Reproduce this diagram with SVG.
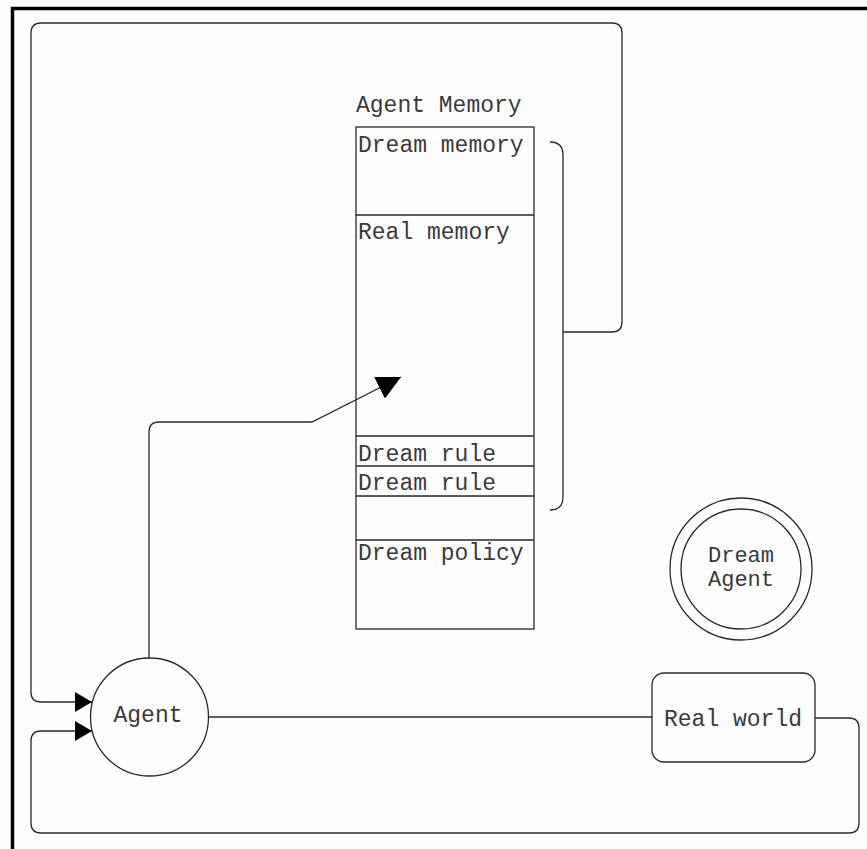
<svg xmlns="http://www.w3.org/2000/svg" width="867" height="849" viewBox="0 0 867 849">
  <style>
    .line { fill: none; stroke: #2a2a2a; stroke-width: 1.3; }
    .shape { fill: none; stroke: #2a2a2a; stroke-width: 1.3; }
    .label { font-family: "Liberation Mono", "Courier New", monospace; font-size: 23px; fill: #3a3a3a; }
    .small { font-size: 22px; }
    .mid { text-anchor: middle; }
  </style>
  <defs>
    <marker id="head" markerUnits="userSpaceOnUse" markerWidth="17" markerHeight="20" refX="17" refY="10" orient="auto">
      <path d="M0,0 L17,10 L0,20 z" fill="#000"/>
    </marker>
    <marker id="head-lg" markerUnits="userSpaceOnUse" markerWidth="24" markerHeight="24" refX="24" refY="12" orient="auto">
      <path d="M0,0 L24,12 L0,24 z" fill="#000"/>
    </marker>
  </defs>

  <rect width="867" height="849" fill="#fdfdfd"/>

  <!-- outer frame (top and left edges) -->
  <path d="M12.5,849 L12.5,8.5 L867,8.5" fill="none" stroke="#000" stroke-width="3.5"/>

  <g id="agent-memory">
    <text class="label" x="356" y="112">Agent Memory</text>
    <rect class="shape" x="356" y="127" width="178" height="502"/>
    <path class="line" d="M356,215 L534,215 M356,436 L534,436 M356,466 L534,466 M356,496 L534,496 M356,540 L534,540"/>
    <text class="label" x="358" y="152">Dream memory</text>
    <text class="label" x="358" y="239">Real memory</text>
    <text class="label" x="358" y="461">Dream rule</text>
    <text class="label" x="358" y="490">Dream rule</text>
    <text class="label" x="358" y="560">Dream policy</text>
  </g>

  <g id="agent">
    <circle class="shape" cx="149.5" cy="717" r="59"/>
    <text class="label mid" x="148" y="722">Agent</text>
  </g>

  <g id="dream-agent">
    <circle class="shape" cx="741" cy="569" r="71"/>
    <circle class="shape" cx="741" cy="569" r="60"/>
    <text class="label small mid" x="741" y="562">Dream</text>
    <text class="label small mid" x="741" y="586">Agent</text>
  </g>

  <g id="real-world">
    <rect class="shape" x="652" y="673" width="163" height="89" rx="12"/>
    <text class="label mid" x="733" y="726">Real world</text>
  </g>

  <g id="connectors">
    <!-- agent to real world -->
    <path class="line" d="M208.5,717 L652,717"/>
    <!-- agent writes into real memory -->
    <path class="line" d="M149,658 L149,432 Q149,422 159,422 L312,422 L401,377" marker-end="url(#head-lg)"/>
    <!-- memory bracket feeding back to agent -->
    <path class="line" d="M550,142 Q563,142 563,155 L563,497 Q563,510 550,510"/>
    <path class="line" d="M563,332 L612,332 Q622,332 622,322 L622,33 Q622,23 612,23 L41,23 Q31,23 31,33 L31,692 Q31,702 41,702 L92,702" marker-end="url(#head)"/>
    <!-- real world back to agent -->
    <path class="line" d="M815,718 L849,718 Q859,718 859,728 L859,823 Q859,833 849,833 L41,833 Q31,833 31,823 L31,741 Q31,731 41,731 L92,731" marker-end="url(#head)"/>
  </g>
</svg>
